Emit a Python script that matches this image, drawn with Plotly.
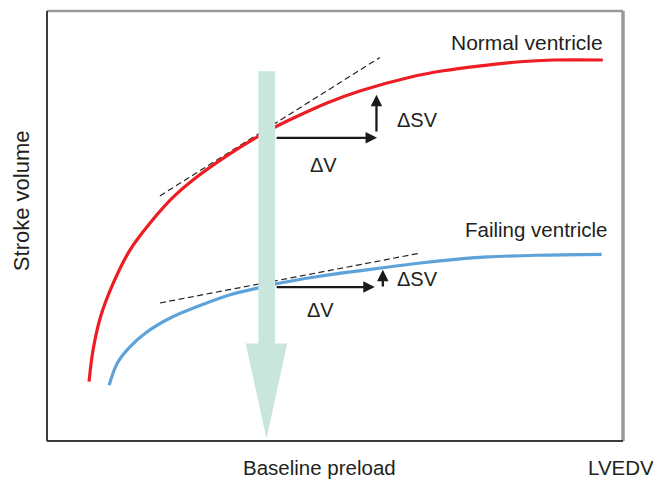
import plotly.graph_objects as go

# Frank-Starling curves (arbitrary units: LVEDV 0-100, stroke volume 0-100)
normal_lvedv = [7.3, 8.0, 9.3, 11.5, 14.4, 17.9, 21.9, 26.0, 31.4, 36.6, 39.6, 42.8, 48.6, 54.3, 63.0, 68.8, 74.9, 82.1, 87.9, 96.5]
normal_sv = [13.8, 21.2, 28.9, 36.7, 44.4, 50.7, 56.7, 61.4, 66.5, 70.8, 73.0, 75.1, 78.6, 81.4, 84.6, 86.1, 87.2, 88.2, 88.6, 88.6]

failing_lvedv = [10.8, 12.2, 14.4, 17.4, 21.4, 26.0, 31.8, 36.7, 39.6, 46.8, 55.5, 64.8, 70.5, 76.4, 85.1, 96.3]
failing_sv = [13.0, 18.1, 21.9, 25.4, 28.6, 31.2, 34.0, 35.6, 36.5, 38.2, 39.8, 41.4, 42.2, 42.8, 43.2, 43.4]

# tangents at baseline preload
normal_tangent_x = [19.6, 57.8]
normal_tangent_y = [57.0, 89.2]
failing_tangent_x = [19.6, 64.8]
failing_tangent_y = [32.1, 43.7]

# baseline preload marker (broad downward arrow)
band_x = [36.7, 39.6, 39.6, 41.7, 38.1, 34.5, 36.7, 36.7]
band_y = [86.0, 86.0, 22.7, 22.7, 0.5, 22.7, 22.7, 86.0]

# delta arrows: (tail x, tail y, tip x, tip y)
normal_dv = (39.6, 70.5, 57.3, 70.5)
normal_dsv = (57.2, 71.6, 57.2, 80.5)
failing_dv = (39.6, 35.8, 56.9, 35.8)
failing_dsv = (58.3, 35.6, 58.3, 39.8)

FONT = "Liberation Sans, Arial, Helvetica, sans-serif"
TXT = "#231f20"
RED = "#ee1d23"
BLUE = "#5ea2da"
MINT = "#c8e6dc"

fig = go.Figure()

fig.add_trace(go.Scatter(x=normal_tangent_x, y=normal_tangent_y, mode="lines",
                         line=dict(color="#222", width=1.2, dash="6px,3.5px"), hoverinfo="skip"))
fig.add_trace(go.Scatter(x=failing_tangent_x, y=failing_tangent_y, mode="lines",
                         line=dict(color="#222", width=1.2, dash="6px,3.5px"), hoverinfo="skip"))
fig.add_trace(go.Scatter(x=normal_lvedv, y=normal_sv, mode="lines",
                         line=dict(color=RED, width=3.2, shape="spline", smoothing=1.0)))
fig.add_trace(go.Scatter(x=failing_lvedv, y=failing_sv, mode="lines",
                         line=dict(color=BLUE, width=3.2, shape="spline", smoothing=1.0)))
fig.add_trace(go.Scatter(x=band_x, y=band_y, mode="lines", fill="toself",
                         fillcolor=MINT, line=dict(width=0, color=MINT), hoverinfo="skip"))

for tx, ty, hx, hy in [normal_dv, normal_dsv, failing_dv, failing_dsv]:
    fig.add_annotation(x=hx, y=hy, ax=tx, ay=ty, xref="x", yref="y", axref="x", ayref="y",
                       text="", showarrow=True, arrowhead=2, arrowsize=1.0, arrowwidth=2.3,
                       arrowcolor="#1a1a1a", standoff=0, startstandoff=0)

def label(text, x, y, xanchor="center", size=20.5, xref="x", yref="y", angle=0):
    fig.add_annotation(x=x, y=y, xref=xref, yref=yref, text=text, showarrow=False,
                       xanchor=xanchor, yanchor="middle", textangle=angle,
                       font=dict(family=FONT, size=size, color=TXT))

label("ΔSV", 60.4, 74.6, xanchor="left", size=20)
label("ΔV", 48.0, 64.3, size=20)
label("ΔSV", 60.4, 37.6, xanchor="left", size=20)
label("ΔV", 47.4, 30.4, size=20)
label("Normal ventricle", 96.9, 92.6, xanchor="right", size=21)
label("Failing ventricle", 97.5, 49.3, xanchor="right")
label("Stroke volume", -0.045, 0.558, xref="paper", yref="paper", angle=-90, size=22)
label("Baseline preload", 0.473, -0.061, xref="paper", yref="paper")
label("LVEDV", 1.057, -0.061, xanchor="right", xref="paper", yref="paper")

# frame
fig.add_shape(type="line", xref="paper", yref="paper", x0=0, y0=1, x1=1, y1=1,
              line=dict(color="#9a9a9a", width=2.5))
fig.add_shape(type="line", xref="paper", yref="paper", x0=1, y0=0, x1=1, y1=1,
              line=dict(color="#9a9a9a", width=3.5))
fig.add_shape(type="line", xref="paper", yref="paper", x0=0, y0=0, x1=0, y1=1,
              line=dict(color="#3c3c3c", width=2))
fig.add_shape(type="line", xref="paper", yref="paper", x0=0, y0=0, x1=1, y1=0,
              line=dict(color="#3c3c3c", width=2))

# the page body adds an 8px offset, so the figure is 8px smaller than the window
fig.update_layout(
    width=653, height=474,
    margin=dict(l=39, r=38, t=3, b=41),
    paper_bgcolor="white", plot_bgcolor="white",
    showlegend=False,
    xaxis=dict(range=[0, 100], visible=False, fixedrange=True),
    yaxis=dict(range=[0, 100], visible=False, fixedrange=True),
)

fig.write_html("out.html")
